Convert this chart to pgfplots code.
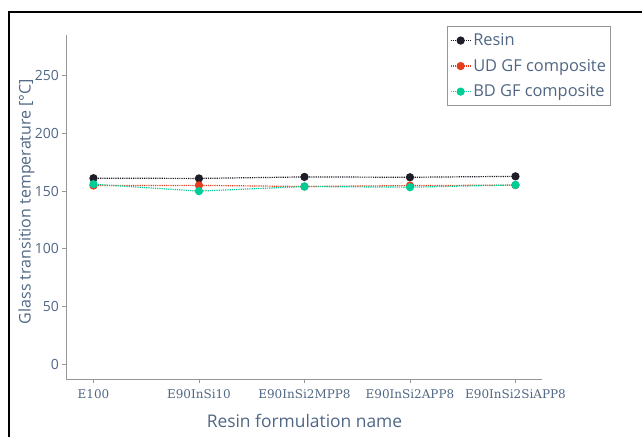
\documentclass[border=0pt]{standalone}
\usepackage{fontspec}
\setmainfont{Open Sans}
\newfontfamily\serifx{DejaVu Serif}
\usepackage{pgfplots}
\pgfplotsset{compat=1.18}
\definecolor{txt}{RGB}{80,103,132}
\definecolor{axc}{RGB}{150,150,150}
\definecolor{resin}{RGB}{30,30,40}
\definecolor{ud}{RGB}{232,60,30}
\definecolor{bd}{RGB}{0,204,150}
\begin{document}
\begin{tikzpicture}[x=1pt,y=1pt]
\useasboundingbox (0,0) rectangle (642,437);
\draw[line width=1.5pt] (9,0) -- (9,425) -- (642,425);
\begin{axis}[at={(63,50)}, anchor=south west, scale only axis, width=476pt, height=344pt,
 xmin=-0.256, xmax=4.256, ymin=-13, ymax=285,
 axis lines=left, axis line style={-, draw=axc, line width=0.8pt},
 xtick={0,...,4}, xticklabels={E100,E90InSi10,E90InSi2MPP8,E90InSi2APP8,E90InSi2SiAPP8},
 ytick={0,50,...,250},
 tick align=outside, major tick length=4pt, tick style={axc, line width=0.8pt},
 x tick label style={font=\serifx\fontsize{12}{14}\selectfont, text=txt, yshift=-3pt},
 y tick label style={font=\fontsize{14}{16}\selectfont, text=txt},
 /pgf/number format/assume math mode=true,
 xlabel={Resin formulation name}, ylabel={Glass transition temperature [°C]},
 xlabel style={font=\fontsize{17.4}{19}\selectfont, text=txt, at={(axis description cs:0.5,0)}, anchor=center, yshift=-42pt},
 ylabel style={font=\fontsize{16}{18}\selectfont, text=txt, at={(axis description cs:-0.084,0.517)}, anchor=center},
 legend style={at={(rel axis cs:1,1)}, anchor=north east, xshift=69pt, yshift=9pt, draw=axc, line width=1pt,
   font=\fontsize{16.4}{19}\selectfont, text=txt, row sep=8pt, inner xsep=3pt, inner ysep=5pt},
 legend cell align=left,
 legend image code/.code={\draw[#1, mark repeat=2, mark phase=2] plot coordinates {(0pt,0pt) (10pt,0pt) (20pt,0pt)};},
 every axis plot/.append style={densely dotted, line width=1.2pt, mark=*, mark size=3.5pt, mark options={solid}},
]
\addplot[color=resin] coordinates {(0,161.2) (1,161.0) (2,162.3) (3,162.0) (4,162.8)};
\addlegendentry{Resin}
\addplot[color=ud] coordinates {(0,154.8) (1,155.0) (2,154.0) (3,154.8) (4,155.2)};
\addlegendentry{UD GF composite}
\addplot[color=bd] coordinates {(0,156.0) (1,150.0) (2,154.0) (3,153.4) (4,155.4)};
\addlegendentry{BD GF composite}
\end{axis}
\end{tikzpicture}
\end{document}
